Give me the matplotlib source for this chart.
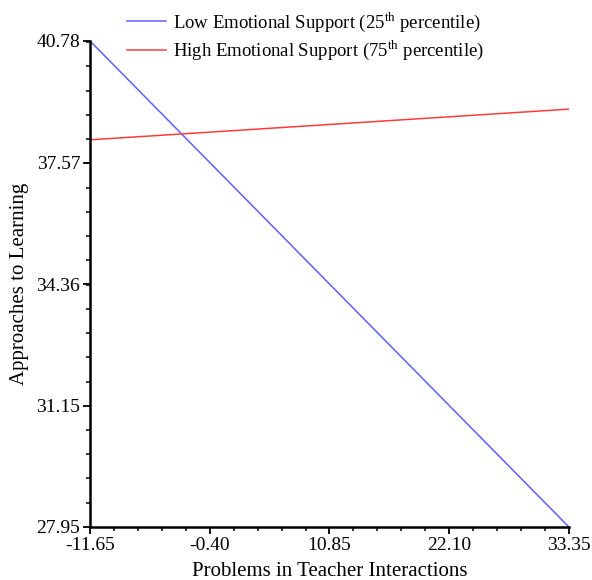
import matplotlib
matplotlib.use("Agg")
import matplotlib.pyplot as plt
from matplotlib.ticker import AutoMinorLocator

plt.rcParams["font.family"] = ["Liberation Serif", "DejaVu Serif"]
plt.rcParams["mathtext.fontset"] = "custom"
plt.rcParams["mathtext.rm"] = "Liberation Serif"

# simple slopes: x = problems in teacher interactions
x_vals = [-11.65, 33.35]
low_es = [40.78, 27.95]
high_es = [38.17, 38.98]
x_ticks = [-11.65, -0.40, 10.85, 22.10, 33.35]
y_ticks = [27.95, 31.15, 34.36, 37.57, 40.78]

fig = plt.figure(figsize=(5.92, 5.8), dpi=100)
ax = fig.add_axes([0.152, 0.0914, 0.809, 0.838])

ax.plot(x_vals, low_es, color="#5f5fff", lw=1.1,
        label=r"Low Emotional Support (25$^{\mathrm{th}}$ percentile)")
ax.plot(x_vals, high_es, color="#ff3b3b", lw=1.1,
        label=r"High Emotional Support (75$^{\mathrm{th}}$ percentile)")

ax.set_xlim(x_ticks[0], x_ticks[-1])
ax.set_ylim(y_ticks[0], y_ticks[-1])
ax.set_xticks(x_ticks)
ax.set_yticks(y_ticks)
ax.set_xticklabels([f"{v:.2f}" for v in x_ticks])
ax.set_yticklabels([f"{v:.2f}" for v in y_ticks])
ax.xaxis.set_minor_locator(AutoMinorLocator(5))
ax.yaxis.set_minor_locator(AutoMinorLocator(5))

for s in ("top", "right"):
    ax.spines[s].set_visible(False)
for s in ("left", "bottom"):
    ax.spines[s].set_linewidth(1.8)
ax.tick_params(which="major", length=5, width=1.3, labelsize=14, pad=2)
ax.tick_params(which="minor", length=3, width=1.1)

ax.set_xlabel("Problems in Teacher Interactions", fontsize=15, labelpad=6)
ax.set_ylabel("Approaches to Learning", fontsize=15, labelpad=5)

fig.legend(loc="upper left", bbox_to_anchor=(0.186, 1.012), frameon=False,
           fontsize=13.5, handlelength=2.1, handletextpad=0.35,
           labelspacing=0.25)

fig.savefig("out.png", dpi=100)
